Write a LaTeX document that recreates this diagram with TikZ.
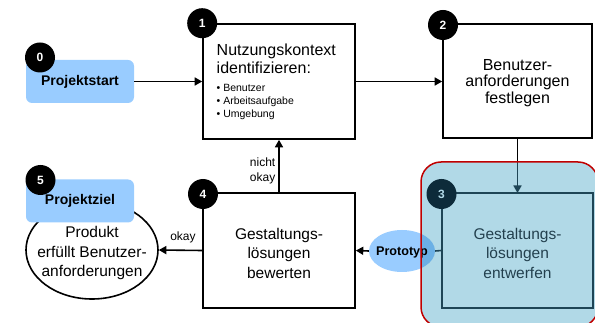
\documentclass[tikz,border=0pt]{standalone}
\usepackage{fontspec}
\setmainfont{Liberation Sans}
\usetikzlibrary{arrows.meta,shapes.geometric}
\definecolor{lb}{HTML}{99CCFF}
\definecolor{ov}{HTML}{B1D9E7}
\definecolor{protodark}{HTML}{6BB0E5}
\definecolor{tealline}{HTML}{1E4556}
\definecolor{tealdark}{HTML}{0D2B3A}
\definecolor{tealtext}{HTML}{23404E}
\definecolor{redb}{HTML}{C00000}
\begin{document}
\begin{tikzpicture}[x=1pt,y=-1pt,
  box/.style={draw, line width=1.6pt, minimum width=152pt, minimum height=115pt, inner sep=0pt},
  num/.style={circle, fill=black, minimum size=30pt, inner sep=0pt, text=white, font=\bfseries\fontsize{12}{12}\selectfont},
  big/.style={font=\fontsize{15.5}{19.5}\selectfont, align=center},
  arr/.style={line width=1.6pt, -{Triangle[length=7.5pt,width=8pt]}},
  plain/.style={line width=1.6pt},
  lbl/.style={font=\fontsize{12}{15}\selectfont},
  bluebox/.style={rounded corners=6pt, fill=lb, minimum width=108pt, minimum height=43pt, inner sep=0pt, font=\bfseries\fontsize{14}{14}\selectfont}
]
\useasboundingbox (0,0) rectangle (595,323);

% start
\node[bluebox] (start) at (80,81.5) {Projektstart};
\node[num] (n0) at (40,57.5) {0};

% box 1
\node[box, fill=white] (b1) at (279,81.5) {};
\node[anchor=north west, align=left, inner sep=0pt, font=\fontsize{16}{18}\selectfont] (t1) at (216.5,44) {Nutzungskontext\\identifizieren:};
\node[anchor=north west, align=left, inner sep=0pt, font=\fontsize{10.5}{13}\selectfont] (t1b) at (216.5,84) {• Benutzer\\• Arbeitsaufgabe\\• Umgebung};
\node[num] (n1) at (b1.north west) {1};

% box 2
\node[box, fill=white, minimum width=149pt, minimum height=114pt] (b2) at (517.5,81) {};
\node[inner sep=0pt, align=center, font=\fontsize{16}{16.8}\selectfont] (t2) at (517.5,83) {Benutzer-\\anforderungen\\festlegen};
\node[num] (n2) at (443,25) {2};

% box 4
\node[box, fill=white] (b4) at (279,250.5) {};
\node[big, inner sep=0pt] (t4) at (279,253) {Gestaltungs-\\lösungen\\bewerten};
\node[num] (n4) at (203,194) {4};

% goal ellipse
\node[ellipse, draw, fill=white, line width=1.6pt, minimum width=132pt, minimum height=98pt, inner sep=0pt] (goal) at (92,250) {};
\node[big, inner sep=0pt] (tg) at (92,253) {Produkt\\erfüllt Benutzer-\\anforderungen};
\node[bluebox] (ziel) at (80,201) {Projektziel};
\node[num] (n5) at (40.5,180) {5};

% prototype
\node[ellipse, fill=lb, minimum width=66pt, minimum height=42pt, inner sep=0pt] (proto) at (402,251) {};

\coordinate (b3top) at (517.5,193);

% connectors
\draw[arr] (start.east) -- (b1.west);
\draw[arr] (b1.east |- start.east) -- (b2.west |- start.east);
\draw[arr] (b2.south) -- (b3top);
\draw[arr] (b4.north) -- (b1.south);
\node[lbl, align=right, anchor=east, inner sep=0pt] (lno) at (275.5,171) {nicht\\okay};
\draw[arr] (b4.west) -- (goal.east);
\node[lbl, inner sep=0pt] (lok) at (183,237) {okay};
\draw[arr] (proto.west) -- (b4.east);

% overlay
\fill[ov, rounded corners=20pt] (421,162) rectangle (598,327);
\begin{scope}
  \clip[rounded corners=20pt] (421,162) rectangle (598,327);
  \fill[protodark] (402,251) ellipse [x radius=33, y radius=21];
  \draw[arr, tealline] (b2.south) -- (b3top);
\end{scope}
\node[box, draw=tealline, minimum width=151pt] (b3) at (517.5,250.5) {};
\node[big, inner sep=0pt, text=tealtext] (t3) at (517.5,253) {Gestaltungs-\\lösungen\\entwerfen};
\node[num, fill=tealdark, text=ov] (n3) at (441.5,194) {3};
\draw[plain, tealline] (b3.west) -- (proto.east);
\node[inner sep=0pt, font=\bfseries\fontsize{12.6}{12.6}\selectfont] (tp) at (402,252) {Prototyp};
\draw[redb, line width=1.5pt, rounded corners=20pt] (421,162) rectangle (598,327);
\end{tikzpicture}
\end{document}
